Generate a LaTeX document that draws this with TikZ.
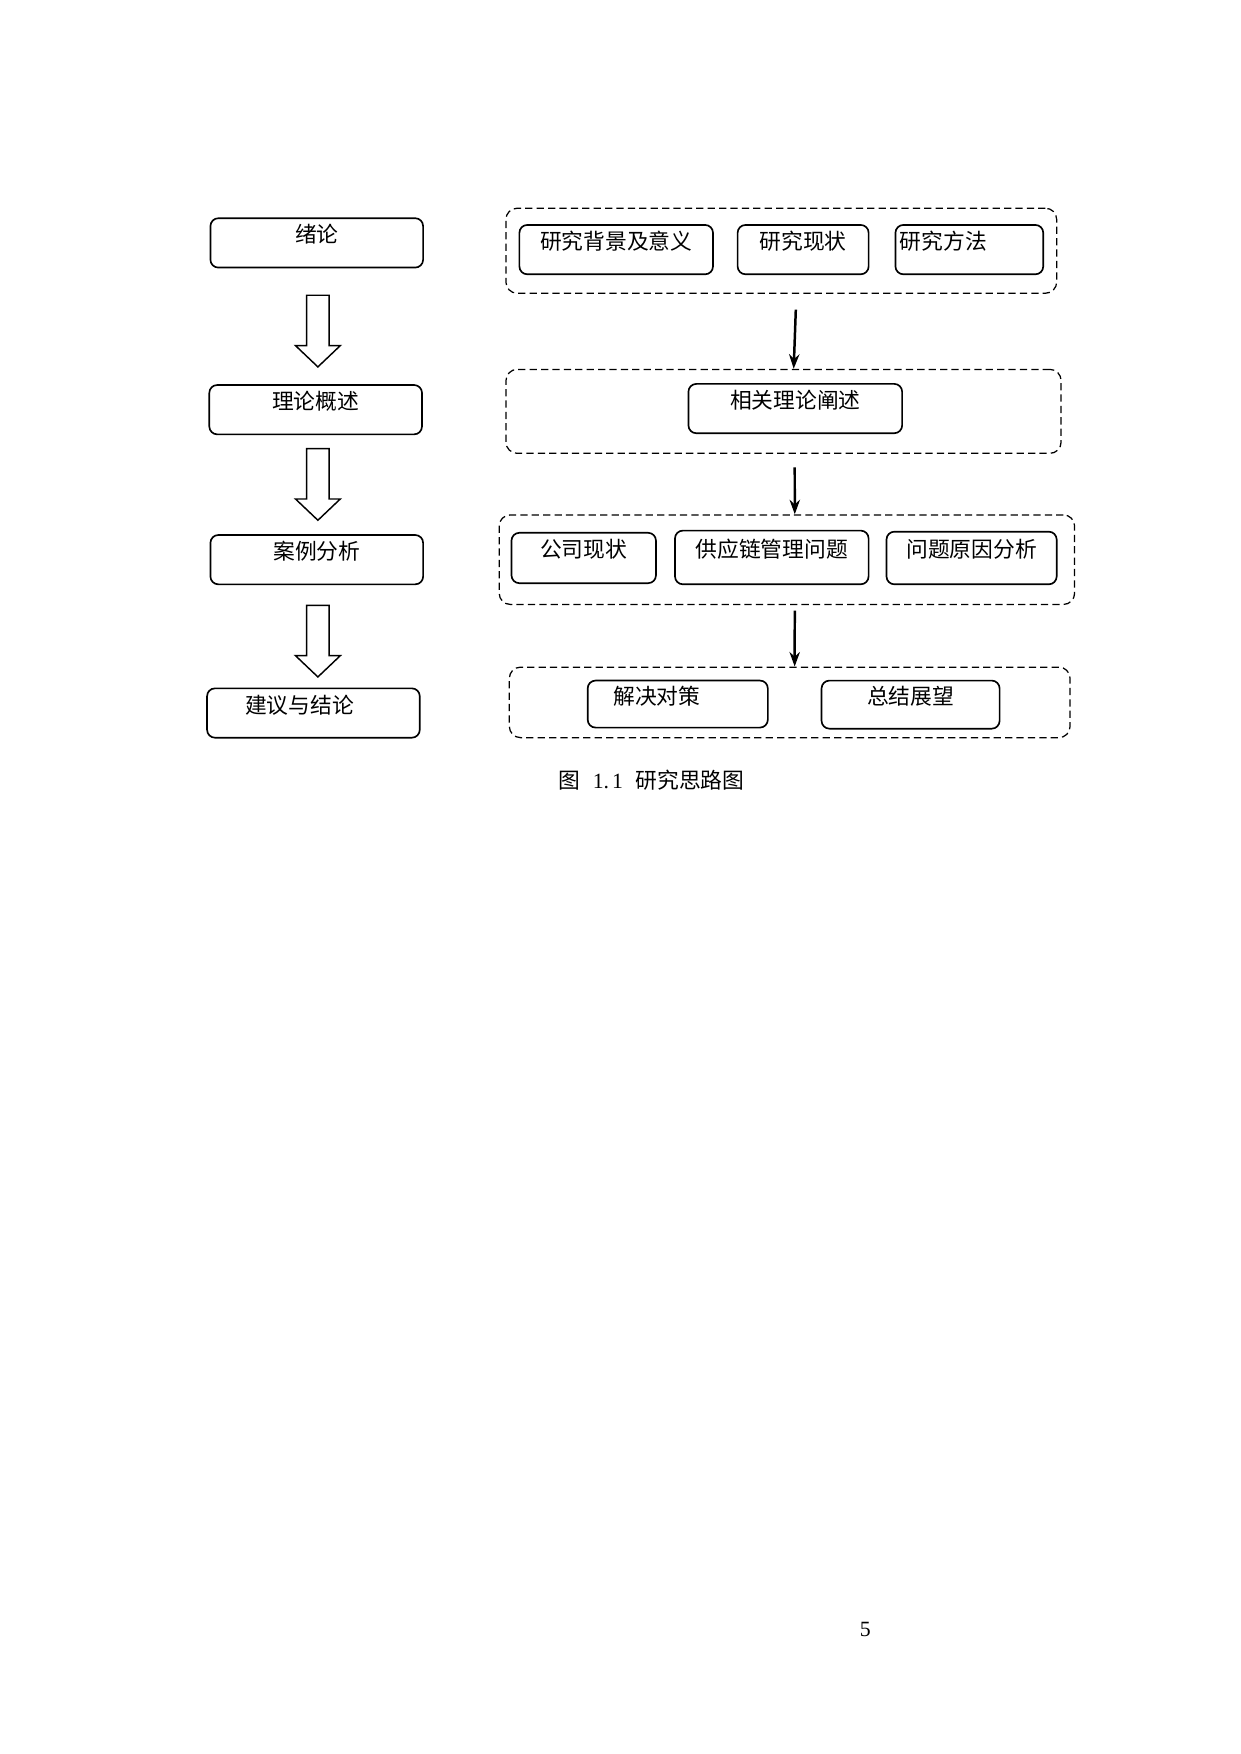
\documentclass[tikz,border=0pt]{standalone}
\usepackage{fontspec}
\setmainfont{Liberation Serif}
\newfontfamily\cjk{Noto Sans CJK SC}
\usetikzlibrary{arrows.meta,calc}

\begin{document}
\begin{tikzpicture}[x=0.54pt,y=-0.54pt,
    box/.style={draw,line width=0.8pt,rounded corners=3.8pt,inner sep=0pt,
      minimum height=23.8pt,text height=5pt,text depth=5pt,
      font=\cjk\fontsize{10.5pt}{12pt}\selectfont},
    group/.style={draw,line width=0.6pt,dash pattern=on 3.5pt off 2pt,
      rounded corners=5.4pt,inner sep=0pt},
    hollow/.style={draw,line width=0.7pt,fill=white},
    flow/.style={line width=1.2pt,-{Stealth[length=7pt,width=5pt]}}]
  \useasboundingbox (0,0) rectangle (1108,1567);

  %% left column
  \node (a1) at (283,217) [box,minimum width=102.6pt] {绪论};
  \node (a2) at (282,366) [box,minimum width=102.6pt] {理论概述};
  \node (a3) at (283,500) [box,minimum width=102.6pt] {案例分析};
  \node (a4) at (280,637) [box,minimum width=102.6pt,text width=65.9pt,align=left] {建议与结论};

  \draw[hollow] ($(a1.south)+(-9,24)$) -- ++(20,0) -- ++(0,45) -- ++(10,0) -- ++(-20,19) -- ++(-20,-19) -- ++(10,0) -- cycle;
  \draw[hollow] ($(a2.south)+(-8,12)$) -- ++(20,0) -- ++(0,45) -- ++(10,0) -- ++(-20,19) -- ++(-20,-19) -- ++(10,0) -- cycle;
  \draw[hollow] ($(a3.south)+(-9,18)$) -- ++(20,0) -- ++(0,45) -- ++(10,0) -- ++(-20,19) -- ++(-20,-19) -- ++(10,0) -- cycle;

  %% right column, dashed groups
  \node (g1) at (698,224) [group,minimum width=265.7pt,minimum height=41pt] {};
  \node (g2) at (700,367.5) [group,minimum width=267.8pt,minimum height=40.5pt] {};
  \node (g3) at (703,500) [group,minimum width=277.6pt,minimum height=43.2pt] {};
  \node (g4) at (705.5,627.5) [group,minimum width=270.5pt,minimum height=34pt] {};

  \node (b11) at (550.5,223) [box,minimum width=93.4pt] {研究背景及意义};
  \node (b12) at (717.5,223) [box,minimum width=63.2pt] {研究现状};
  \node (b13) at (866,223) [box,minimum width=71.3pt,text width=67pt,align=left] {研究方法};

  \node (b2) at (710.5,365) [box,minimum width=103.1pt] {相关理论阐述};

  \node (b31) at (521.5,498.5) [box,minimum width=69.7pt,minimum height=24.3pt] {公司现状};
  \node (b32) at (689.5,498) [box,minimum width=93.4pt,minimum height=25.9pt] {供应链管理问题};
  \node (b33) at (868,498.5) [box,minimum width=82.1pt,minimum height=25.4pt] {问题原因分析};

  \node (b41) at (605.5,629) [box,minimum width=86.9pt,minimum height=22.7pt,text width=62.1pt,align=left] {解决对策};
  \node (b42) at (813.5,629.5) [box,minimum width=85.9pt,minimum height=23.2pt] {总结展望};

  \draw[flow] ([xshift=7pt,yshift=-7.6pt]g1.south) -- ([xshift=4.9pt]g2.north);
  \draw[flow] ([xshift=5.4pt,yshift=-6.5pt]g2.south) -- ([xshift=3.8pt]g3.north);
  \draw[flow] ([xshift=3.8pt,yshift=-2.7pt]g3.south) -- ([xshift=2.4pt]g4.north);

  %% caption and page number
  \node (cap) at (582,697) [font=\cjk\fontsize{10.5pt}{12pt}\selectfont] {图\hspace{6pt}{\rmfamily 1.\hspace{1.5pt}1}\hspace{6pt}研究思路图};
  \node (pno) at (773,1456) [font=\fontsize{10.5pt}{12pt}\selectfont] {5};
\end{tikzpicture}
\end{document}
